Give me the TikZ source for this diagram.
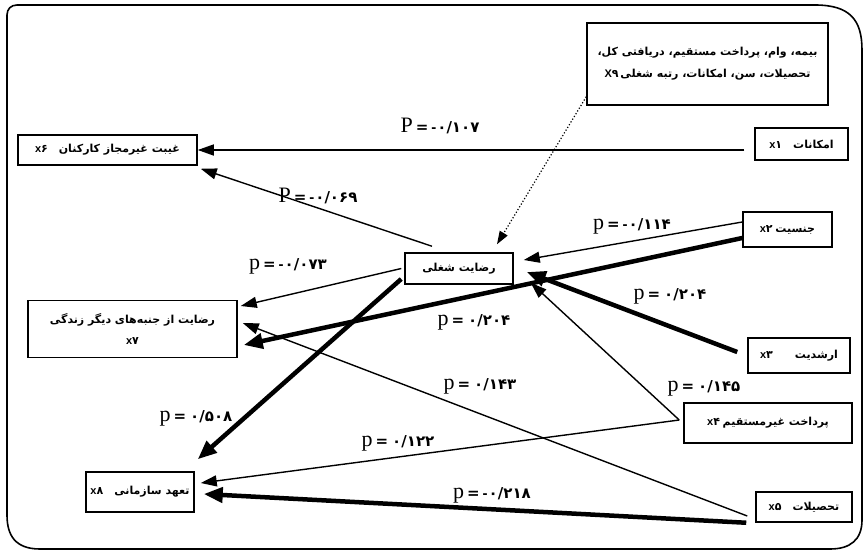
\documentclass[tikz,border=0pt]{standalone}
\usepackage{fontspec}
\setmainfont{Liberation Serif}
\newfontfamily\arabicfont[Script=Arabic]{DejaVu Sans}
\newfontfamily\latinsans{Liberation Sans}
\TeXXeTstate=1
\usetikzlibrary{arrows.meta}
\newcommand\fa[1]{{\arabicfont\bfseries\beginR #1\endR}}
\newcommand\xv[2]{{\latinsans\bfseries #1}{\arabicfont\bfseries #2}}
\newcommand\pval[3]{{\fontsize{22}{22}\selectfont #1}\hspace{3pt}{\arabicfont\bfseries\fontsize{15}{15}\selectfont =}\hspace{3pt}{\latinsans\bfseries\fontsize{15}{15}\selectfont #2}\hspace{1pt}{\arabicfont\bfseries\fontsize{15}{15}\selectfont #3}}
\tikzset{
  box/.style={draw, line width=1.5pt, inner sep=1pt, font=\fontsize{11}{13}\selectfont},
  lnthin/.style={line width=1.4pt, -{Triangle[length=16pt,width=11pt]}},
  lnheavy/.style={line width=4.5pt, -{Triangle[length=19pt,width=15pt]}},
  lndots/.style={line width=1.2pt, dotted, -{Triangle[length=13pt,width=9pt]}},
  plab/.style={inner sep=0pt},
  frame/.style={line width=1.6pt}
}
\begin{document}
\begin{tikzpicture}[x=1pt,y=-1pt]
\useasboundingbox (0,0) rectangle (868,552);
% frame
\draw[frame] (17,5) -- (815,5) .. controls (850,5) and (862,20) .. (862,50) -- (862,520)
  .. controls (862,540) and (850,549) .. (830,549) -- (40,549)
  .. controls (15,549) and (7,535) .. (7,515) -- (7,15) .. controls (7,9) and (11,5) .. (17,5) -- cycle;
% nodes
\node[box, minimum width=241pt, minimum height=82pt, align=center, font=\fontsize{11}{13}\selectfont] (x9) at (707.5,64)
  {\fa{بیمه، وام، پرداخت مستقیم، دریافتی کل،}\\[9pt]\xv{X}{۹}\,\fa{تحصیلات، سن، امکانات، رتبه شغلی}};
\node[box, minimum width=93pt, minimum height=32pt] (x1) at (801.5,144) {\xv{x}{۱}\quad\fa{امکانات}};
\node[box, minimum width=179pt, minimum height=30pt] (x6) at (107.5,150) {\xv{x}{۶}\quad\fa{غیبت غیرمجاز کارکنان}};
\node[box, minimum width=108pt, minimum height=31pt] (js) at (459,268.5) {\fa{رضایت شغلی}};
\node[box, minimum width=89pt, minimum height=35pt] (x2) at (787.5,229.5) {\xv{x}{۲}\ \fa{جنسیت}};
\node[box, minimum width=209pt, minimum height=57pt, align=center] (x7) at (132.5,329)
  {\fa{رضایت از جنبه‌های دیگر زندگی}\\[8pt]\xv{x}{۷}};
\node[box, minimum width=102pt, minimum height=35pt] (x3) at (799,355.5) {\xv{x}{۳}\qquad\fa{ارشدیت}};
\node[box, minimum width=168pt, minimum height=40pt] (x4) at (768,423) {\xv{x}{۴}\ \fa{پرداخت غیرمستقیم}};
\node[box, minimum width=96pt, minimum height=30pt] (x5) at (804,507) {\xv{x}{۵}\quad\fa{تحصیلات}};
\node[box, minimum width=108pt, minimum height=40pt] (x8) at (140,492) {\xv{x}{۸}\quad\fa{تعهد سازمانی}};
% connectors
\draw[lnthin] ([xshift=-10pt,yshift=-6pt]x1.west) -- (x6.east);
\draw[lnthin] ([xshift=-27pt,yshift=6pt]js.north) -- ([xshift=3pt,yshift=-3pt]x6.south east);
\draw[lndots] ([yshift=9pt]x9.south west) -- ([xshift=38pt,yshift=8pt]js.north);
\draw[lnthin] ([yshift=7.5pt]x2.west) -- ([xshift=10pt,yshift=8.5pt]js.east);
\draw[lnheavy] ([yshift=-8.5pt]x2.west) -- ([xshift=6pt,yshift=-16pt]x7.east);
\draw[lnheavy] ([xshift=-10pt,yshift=3.5pt]x3.west) -- ([xshift=13pt,yshift=-3.5pt]js.east);
\draw[lnthin] ([xshift=-3pt]js.west) -- ([xshift=3pt,yshift=23pt]x7.east);
\draw[lnheavy] ([xshift=-3pt,yshift=-10.5pt]js.west) -- ([xshift=3pt,yshift=12pt]x8.north east);
\draw[lnthin] ([xshift=-8pt,yshift=-9pt]x5.west) -- ([xshift=5pt,yshift=6pt]x7.east);
\draw[lnthin] ([xshift=-4pt,yshift=3pt]x4.west) -- ([xshift=17pt,yshift=2pt]js.south east);
\draw[lnthin] ([xshift=-4pt,yshift=3pt]x4.west) -- ([xshift=6pt,yshift=9pt]x8.east);
\draw[lnheavy] ([xshift=-9pt]x5.south west) -- ([xshift=9pt,yshift=-2pt]x8.east);
% labels
\node[plab] (l1) at (440,126) {\pval{P}{-}{۰/۱۰۷}};
\node[plab] (l2) at (318,196) {\pval{P}{-}{۰/۰۶۹}};
\node[plab] (l3) at (632,226) {\pval{p}{-}{۰/۱۱۴}};
\node[plab] (l4) at (288,266) {\pval{p}{-}{۰/۰۷۳}};
\node[plab] (l5) at (474,322) {\pval{p}{}{۰/۲۰۴}};
\node[plab] (l6) at (670,296) {\pval{p}{}{۰/۲۰۴}};
\node[plab] (l7) at (196,418) {\pval{p}{}{۰/۵۰۸}};
\node[plab] (l8) at (480,386) {\pval{p}{}{۰/۱۴۳}};
\node[plab] (l9) at (704,388) {\pval{p}{}{۰/۱۴۵}};
\node[plab] (l10) at (398,443) {\pval{p}{}{۰/۱۲۲}};
\node[plab] (l11) at (492,495) {\pval{p}{-}{۰/۲۱۸}};
\end{tikzpicture}
\end{document}
